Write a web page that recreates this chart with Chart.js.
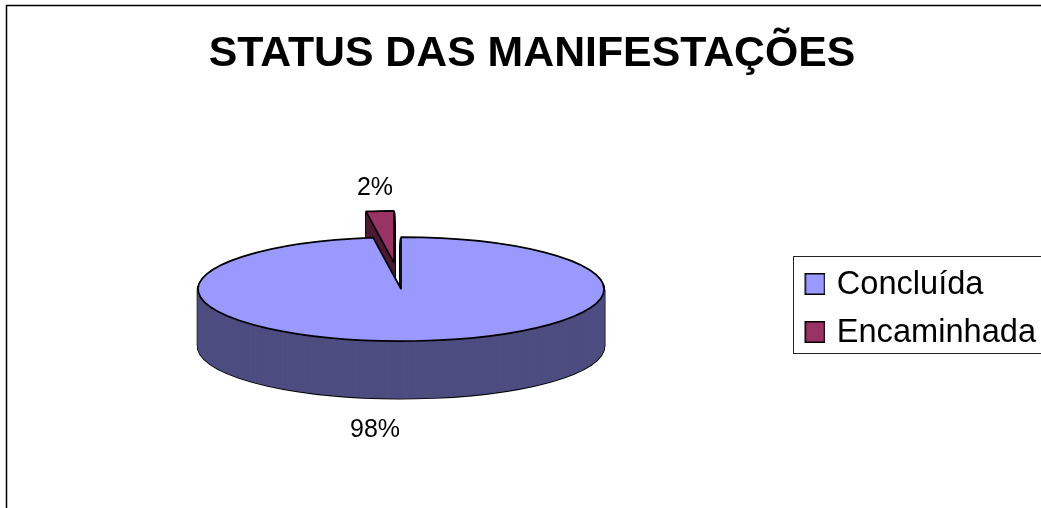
<!DOCTYPE html>
<html>
<head>
<meta charset="utf-8">
<style>
    html, body { margin: 0; padding: 0; background: #fff; overflow: hidden; }
    canvas { display: block; }
</style>
<script src="https://cdn.jsdelivr.net/npm/chart.js@4"></script>
</head>
<body>
<canvas id="chartStatus" width="1041" height="508"></canvas>
<script>
    const title = 'STATUS DAS MANIFESTAÇÕES';
    const categories = ['Concluída', 'Encaminhada'];
    const values = [97.8, 2.2];
    const topColors = ['#9999FF', '#993366'];
    const wallColors = ['#4D4D80', '#4D1933'];

    // look of the tilted pie
    const TILT = 0.256;
    const DEPTH = 57;
    const EXPLODE = [0, 103];
    const labelSpots = [[375, 430], [375, 188.5]];

    function swatch(color) {
        // right aligned so the legend text sits closer to the box
        const c = document.createElement('canvas');
        c.width = 26;
        c.height = 24;
        const g = c.getContext('2d');
        g.fillStyle = color;
        g.strokeStyle = '#000';
        g.lineWidth = 1.5;
        g.fillRect(5.75, 0.75, 19.5, 20.5);
        g.strokeRect(5.75, 0.75, 19.5, 20.5);
        return c;
    }

    function drawArc(ctx, arc, index, color, lineWidth, drop, lineColor) {
        const saved = arc.options;
        const mid = (arc.startAngle + arc.endAngle) / 2;
        arc.options = Object.assign({}, saved, { backgroundColor: color, borderColor: lineColor, borderWidth: lineWidth });
        ctx.save();
        ctx.translate(arc.x, arc.y + drop);
        ctx.scale(1, TILT);
        ctx.translate(Math.cos(mid) * EXPLODE[index] - arc.x, Math.sin(mid) * EXPLODE[index] - arc.y);
        arc.draw(ctx);
        ctx.restore();
        arc.options = saved;
    }

    function drawWall(ctx, arc, index) {
        const color = wallColors[index];
        for (let d = DEPTH; d >= 1; d--) drawArc(ctx, arc, index, color, 2.6, d, '#000');
        for (let d = DEPTH; d >= 1; d--) drawArc(ctx, arc, index, color, 1, d, color);
    }

    const pie3d = {
        id: 'pie3d',
        afterLayout(chart) {
            chart.legend.top += 71.5;
            chart.legend.bottom += 71.5;
            chart.titleBlock.left += 2.5;
            chart.titleBlock.right += 2.5;
        },
        beforeDraw(chart) {
            const ctx = chart.ctx;
            ctx.save();
            ctx.strokeStyle = '#000';
            ctx.lineWidth = 1.5;
            ctx.strokeRect(6.5, 5.5, 1100, 600);
            ctx.lineWidth = 1;
            ctx.strokeStyle = '#222';
            ctx.strokeRect(793.5, 256.5, 300, 97);
            ctx.restore();
        },
        beforeDatasetDraw(chart, args) {
            const ctx = chart.ctx;
            const arcs = args.meta.data;
            // keep the pen round while the path is squashed
            const plainStroke = ctx.stroke;
            ctx.stroke = function () {
                ctx.save();
                ctx.setTransform(1, 0, 0, 1, 0, 0);
                plainStroke.call(ctx);
                ctx.restore();
            };
            drawWall(ctx, arcs[0], 0);
            drawWall(ctx, arcs[1], 1);
            drawArc(ctx, arcs[1], 1, topColors[1], 1.7, 0, '#000');
            drawArc(ctx, arcs[0], 0, topColors[0], 1.7, 0, '#000');
            delete ctx.stroke;
            return false;
        },
        afterDatasetsDraw(chart) {
            const ctx = chart.ctx;
            const total = values.reduce((a, b) => a + b, 0);
            ctx.save();
            ctx.fillStyle = '#000';
            ctx.font = '25px "Liberation Sans"';
            ctx.textAlign = 'center';
            ctx.textBaseline = 'middle';
            values.forEach((v, i) => {
                ctx.fillText(Math.round(v / total * 100) + '%', labelSpots[i][0], labelSpots[i][1]);
            });
            ctx.restore();
        }
    };

    Chart.defaults.color = '#000';
    Chart.defaults.font.family = '"Liberation Sans"';

    new Chart(document.getElementById('chartStatus'), {
        type: 'pie',
        data: {
            labels: categories,
            datasets: [{
                data: values,
                backgroundColor: topColors,
                borderColor: '#000',
                clip: false
            }]
        },
        options: {
            responsive: false,
            animation: false,
            devicePixelRatio: 1,
            radius: 203,
            layout: { padding: { left: 13, right: -5, bottom: 33, top: 0 } },
            plugins: {
                title: {
                    display: true,
                    text: title,
                    font: { size: 42.8, weight: 'bold' },
                    padding: { top: 29, bottom: 23 }
                },
                legend: {
                    position: 'right',
                    labels: {
                        font: { size: 32.6 },
                        padding: 15.4,
                        usePointStyle: true,
                        pointStyleWidth: 16,
                        generateLabels(chart) {
                            const items = Chart.overrides.pie.plugins.legend.labels.generateLabels(chart);
                            items.forEach((item, i) => { item.pointStyle = swatch(topColors[i]); });
                            return items;
                        }
                    }
                },
                tooltip: { enabled: false }
            }
        },
        plugins: [pie3d]
    });
</script>
</body>
</html>
